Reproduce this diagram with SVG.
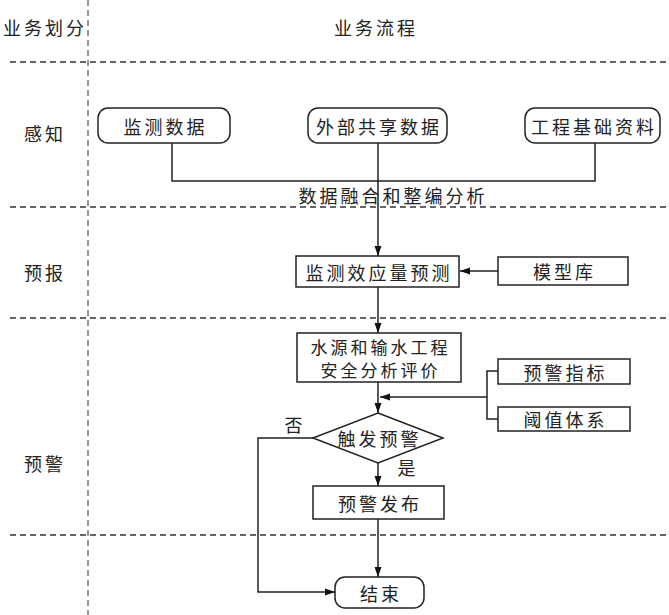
<svg xmlns="http://www.w3.org/2000/svg" width="669" height="615" viewBox="0 0 669 615">
<defs>
<marker id="arr" viewBox="0 0 10 10" refX="10" refY="5" markerWidth="10" markerHeight="10" markerUnits="userSpaceOnUse" orient="auto">
<path d="M0,1.5 L10,5 L0,8.5 Z" fill="#111"/>
</marker>
</defs>
<style>
text{font-family:"Noto Sans CJK SC","Noto Sans",sans-serif;font-size:18px;fill:#222;text-anchor:middle;dominant-baseline:central;letter-spacing:3px}
.two{font-size:17px}
.box{fill:#fff;stroke:#222;stroke-width:1.5}
.dash{stroke:#333;stroke-width:1.3;stroke-dasharray:6,4;fill:none}
.vdash{stroke:#333;stroke-width:1;stroke-dasharray:6,4;fill:none}
.ln{stroke:#222;stroke-width:1.5;fill:none}
.ar{stroke:#222;stroke-width:1.5;fill:none;marker-end:url(#arr)}
</style>
<rect width="669" height="615" fill="#fff"/>
<g id="lanes">
<line class="vdash" x1="88" y1="0" x2="88" y2="615"/>
<line class="dash" x1="10" y1="62" x2="669" y2="62"/>
<line class="dash" x1="10" y1="207" x2="669" y2="207"/>
<line class="dash" x1="10" y1="318" x2="669" y2="318"/>
<line class="dash" x1="10" y1="535" x2="669" y2="535"/>
<text x="45" y="27">业务划分</text>
<text x="376" y="27">业务流程</text>
<text x="45" y="133">感知</text>
<text x="45" y="272">预报</text>
<text x="45" y="463">预警</text>
</g>
<g id="connectors">
<polyline class="ln" points="172,143 172,181 595,181 595,143"/>
<line class="ar" x1="378" y1="143" x2="378" y2="256"/>
<text x="393" y="195">数据融合和整编分析</text>
<line class="ar" x1="498" y1="271" x2="460" y2="271"/>
<line class="ar" x1="378" y1="287" x2="378" y2="333"/>
<polyline class="ln" points="498,371 487,371 487,419 498,419"/>
<line class="ar" x1="487" y1="397" x2="380" y2="397"/>
<line class="ar" x1="378" y1="382" x2="378" y2="413"/>
<line class="ar" x1="378" y1="463" x2="378" y2="486"/>
<line class="ar" x1="378" y1="519" x2="378" y2="577"/>
<polyline class="ar" points="313,438 258,438 258,592 335,592"/>
<text x="295" y="424">否</text>
<text x="408" y="467">是</text>
</g>
<g id="n1"><rect class="box" x="98" y="108" width="132" height="35" rx="10"/><text x="165.5" y="125.5">监测数据</text></g>
<g id="n2"><rect class="box" x="308" y="108" width="139" height="35" rx="10"/><text x="379" y="125.5">外部共享数据</text></g>
<g id="n3"><rect class="box" x="525" y="108" width="135" height="35" rx="10"/><text x="594" y="125.5">工程基础资料</text></g>
<g id="n4"><rect class="box" x="296" y="256" width="163" height="31"/><text x="379" y="271.5">监测效应量预测</text></g>
<g id="n5"><rect class="box" x="498" y="257" width="130" height="28"/><text x="564.5" y="271">模型库</text></g>
<g id="n6"><rect class="box" x="297" y="333" width="164" height="49"/><text class="two" x="380.5" y="346">水源和输水工程</text><text class="two" x="380.5" y="369.5">安全分析评价</text></g>
<g id="n7"><rect class="box" x="498" y="359" width="132" height="25"/><text x="565.5" y="371.5">预警指标</text></g>
<g id="n8"><rect class="box" x="498" y="407" width="132" height="24"/><text x="565.5" y="419">阈值体系</text></g>
<g id="n9"><polygon class="box" points="378,413 443,438 378,463 313,438"/><text x="379.5" y="438">触发预警</text></g>
<g id="n10"><rect class="box" x="313" y="486" width="131" height="33"/><text x="380" y="502.5">预警发布</text></g>
<g id="n11"><rect class="box" x="335" y="577" width="89" height="31" rx="10"/><text x="381" y="592.5">结束</text></g>
</svg>
